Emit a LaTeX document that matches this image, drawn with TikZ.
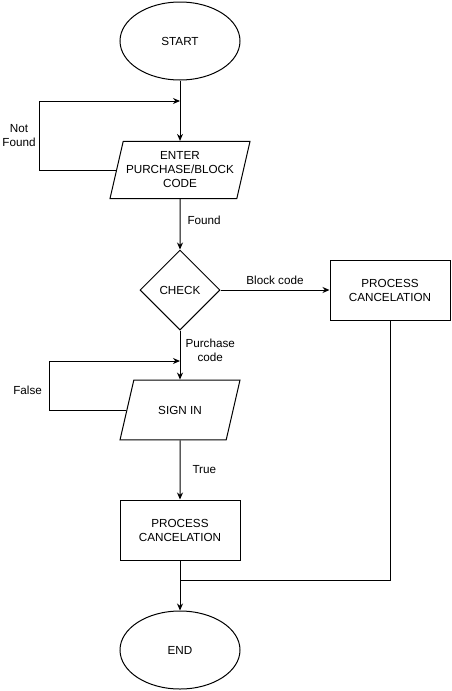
\documentclass[tikz,border=0pt]{standalone}
\usepackage{fontspec}
\setmainfont{Liberation Sans}
\usetikzlibrary{shapes.geometric}
\usetikzlibrary{arrows.meta}

\begin{document}
\begin{tikzpicture}[x=1pt, y=-1pt, line width=1pt, >={Stealth[length=7pt,width=6pt]},
		font=\fontsize{11.7}{14}\selectfont,
		terminal/.style={draw, ellipse, minimum width=120pt, minimum height=78pt, inner sep=0pt},
		inout/.style={draw, trapezium, trapezium left angle=77, trapezium right angle=103,
			trapezium stretches body=true, minimum width=140pt, align=center, inner xsep=0pt},
		decision/.style={draw, diamond, minimum width=80pt, minimum height=80pt, inner sep=0pt},
		process/.style={draw, rectangle, minimum width=120pt, minimum height=60pt, align=center},
		lbl/.style={align=center, inner sep=0pt}]
			\useasboundingbox (0,0) rectangle (451,691);
			\node[terminal] (start) at (180, 41) {START};
			\node[inout, inner ysep=10.5pt] (enter) at (180, 170) {ENTER\\PURCHASE/BLOCK\\CODE};
			\node[decision] (check) at (180, 290) {CHECK};
			\node[process] (cancel-right) at (390, 290) {PROCESS\\CANCELATION};
			\node[inout, minimum width=120pt, inner ysep=25.8pt] (signin) at (180, 410) {SIGN IN};
			\node[process] (cancel-left) at (180, 530) {PROCESS\\CANCELATION};
			\node[terminal] (end) at (180, 650) {END};
			\coordinate (join-top) at (180, 101);
			\coordinate (join-mid) at (180, 361);
			\coordinate (join-bot) at (180, 580);
			\draw[->] (start) -- (enter);
			\draw[->] (enter.west) -- ++(-77,0) |- node[lbl, pos=0.25, left=3pt] {Not\\Found} (join-top);
			\draw[->] (enter) -- node[lbl, pos=0.42, right=7pt] {Found} (check);
			\draw[->] (check) -- node[lbl, above=5pt] {Block code} (cancel-right);
			\draw[->] (check) -- node[lbl, pos=0.4, right=5pt] {Purchase\\code} (signin);
			\draw[->] (signin.west) -- ++(-77,0) |- node[lbl, pos=0.2, left=7pt] {False} (join-mid);
			\draw[->] (signin) -- node[lbl, right=12pt] {True} (cancel-left);
			\draw (cancel-right) |- (join-bot);
			\draw[->] (cancel-left) -- (end);
		\end{tikzpicture}
\end{document}
